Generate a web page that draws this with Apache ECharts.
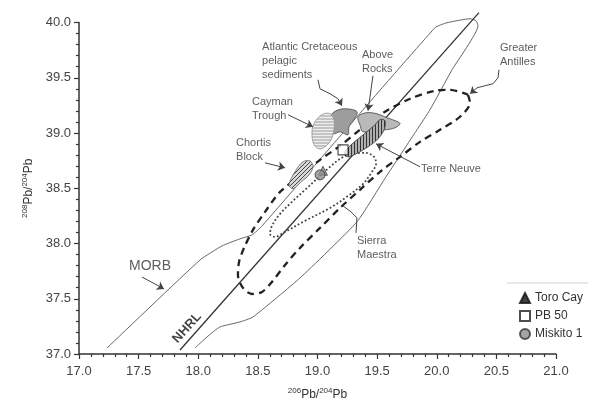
<!DOCTYPE html>
<html><head><meta charset="utf-8">
<script src="https://cdn.jsdelivr.net/npm/echarts@6/dist/echarts.min.js"></script>
<style>html,body{margin:0;padding:0;background:#fff}#c{width:614px;height:401px}</style>
</head><body><div id="c"></div>
<script>
// ---- data (206Pb/204Pb, 208Pb/204Pb) ----
const xRange = [17.0, 21.0];
const yRange = [37.0, 40.0];
const morbEnvelope = [[17.235,37.054],[18.015,37.851],[18.199,37.978],[18.350,38.042],[18.451,38.078],[18.535,38.159],[19.985,39.953],[20.086,39.998],[20.279,40.034],[20.329,40.016],[20.346,39.971],[20.128,39.572],[19.943,39.210],[19.834,39.029],[19.574,38.603],[19.331,38.196],[18.853,37.688],[18.459,37.335],[18.350,37.290],[18.182,37.245],[18.073,37.154],[17.973,37.054]];
const nhrl = [[17.847,37.036],[20.354,40.089]];
const greaterAntilles = [[20.262,39.346],[20.279,39.274],[20.195,39.147],[20.027,39.029],[19.860,38.920],[19.692,38.784],[19.524,38.649],[19.356,38.486],[19.189,38.322],[19.021,38.141],[18.853,37.960],[18.728,37.806],[18.618,37.652],[18.535,37.562],[18.451,37.543],[18.375,37.598],[18.333,37.716],[18.342,37.833],[18.384,37.960],[18.459,38.123],[18.560,38.286],[18.686,38.467],[18.853,38.612],[19.021,38.757],[19.189,38.884],[19.356,39.029],[19.566,39.192],[19.776,39.310],[19.985,39.382],[20.111,39.391],[20.262,39.346]];
const sierraMaestra = [[19.273,38.812],[19.398,38.821],[19.474,38.784],[19.491,38.721],[19.457,38.649],[19.382,38.540],[19.256,38.431],[19.105,38.322],[18.895,38.205],[18.728,38.105],[18.644,38.060],[18.602,38.087],[18.618,38.159],[18.686,38.268],[18.786,38.377],[18.895,38.486],[19.004,38.594],[19.105,38.694],[19.189,38.766],[19.273,38.812]];
const atlanticCretaceous = [[19.105,39.147],[19.155,39.201],[19.239,39.219],[19.331,39.192],[19.306,39.120],[19.264,39.056],[19.256,38.984],[19.189,39.011],[19.130,38.993],[19.105,39.074]];
const caymanTrough = [[19.105,39.174],[19.138,39.120],[19.138,39.029],[19.113,38.938],[19.063,38.875],[19.013,38.857],[18.971,38.893],[18.954,38.975],[18.962,39.065],[19.004,39.138],[19.055,39.174]];
const aboveRocks = [[19.340,39.147],[19.407,39.183],[19.499,39.174],[19.583,39.138],[19.675,39.101],[19.692,39.083],[19.650,39.047],[19.566,39.029],[19.499,39.029],[19.382,39.011],[19.356,39.074]];
const terreNeuve = [[19.222,38.812],[19.273,38.884],[19.373,38.975],[19.474,39.065],[19.524,39.120],[19.566,39.111],[19.558,39.029],[19.507,38.947],[19.424,38.875],[19.323,38.812],[19.256,38.784]];
const chortisBlock = [[18.761,38.531],[18.811,38.649],[18.878,38.739],[18.937,38.748],[18.962,38.694],[18.929,38.621],[18.862,38.558],[18.795,38.495]];
const toroCay = [[19.046,38.658]];
const pb50 = [[19.214,38.848]];
const miskito1 = [[19.021,38.621]];
// annotation texts (anchor = left/top of text, in data units)
const labelTexts = ['Atlantic Cretaceous\npelagic\nsediments','Above\nRocks','Cayman\nTrough','Chortis\nBlock','Terre Neuve','Greater\nAntilles','Sierra\nMaestra'];
const labelAnchors = [[18.535,39.844],[19.373,39.772],[18.451,39.346],[18.317,38.975],[19.868,38.735],[20.530,39.835],[19.331,38.087]];
const morbLabel = [17.419,37.862];
const nhrlLabel = [17.906,37.236];
// annotation pointers (arrow at last point)
const pointers = [
  [[19.004,39.482],[19.021,39.400],[19.105,39.355],[19.172,39.310],[19.205,39.246]],
  [[19.465,39.518],[19.424,39.201]],
  [[18.753,39.165],[18.962,39.056]],
  [[18.560,38.730],[18.728,38.685]],
  [[19.860,38.694],[19.491,38.902]],
  [[20.522,39.572],[20.514,39.500],[20.472,39.446],[20.405,39.428],[20.338,39.409],[20.279,39.355]],
  [[17.528,37.697],[17.713,37.589]]
];
const sierraPointer = [[19.323,38.096],[19.331,38.232],[19.281,38.286],[19.214,38.341]];

// ---- hatch patterns ----
function pattern(kind, bg, fg){
  const c = document.createElement('canvas');
  const s = kind==='h' ? [4,3] : kind==='v' ? [3,4] : [4,4];
  c.width = s[0]; c.height = s[1];
  const g = c.getContext('2d');
  g.fillStyle = bg; g.fillRect(0,0,c.width,c.height);
  g.fillStyle = fg; g.strokeStyle = fg;
  if (kind==='h') g.fillRect(0,0,4,1);
  else if (kind==='v') g.fillRect(0,0,1,4);
  else { g.lineWidth=1; g.beginPath(); g.moveTo(0,4); g.lineTo(4,0); g.moveTo(-1,1); g.lineTo(1,-1); g.moveTo(3,5); g.lineTo(5,3); g.stroke(); }
  return {image:c, repeat:'repeat'};
}
const FONT = 'Liberation Sans, Arial, sans-serif';
function polySeries(name, pts, fill, stroke, z){
  return {type:'custom', name, coordinateSystem:'cartesian2d', z, silent:true,
    data:[pts[0]],
    renderItem:(params, api)=>({type:'polygon',
      shape:{points: pts.map(p=>api.coord(p)), smooth:0.35},
      style:{fill, stroke, lineWidth:0.9}})};
}
function lineSeries(data, color, width, type, z, smooth){
  return {type:'line', data, showSymbol:false, symbol:'none', smooth, clip:false, z, silent:true,
    lineStyle:{color, width, type}};
}
// pointer bodies (all but last segment) and arrow segments (last segment)
const pointerBodies = pointers.filter(p=>p.length>2).map(p=>({coords:p.slice(0,-1)}));
const pointerHeads = pointers.map(p=>({coords:p.slice(-2)}));
const chart = echarts.init(document.getElementById('c'), null, {renderer:'canvas'});
const annData = labelTexts.map((t,i)=>({value:labelAnchors[i], label:{formatter:t}}));
chart.setOption({
  animation:false,
  backgroundColor:'#fff',
  grid:{left:79, right:58, top:22.5, bottom:47, outerBoundsMode:'none', containLabel:false},
  xAxis:{type:'value', min:xRange[0], max:xRange[1], interval:0.5,
    name:'{s|206}{b|Pb/}{s|204}{b|Pb}', nameLocation:'middle', nameGap:33,
    nameTextStyle:{rich:{b:{fontSize:12, fontFamily:FONT, color:'#333', lineHeight:14, verticalAlign:'bottom'},
                         s:{fontSize:8, fontFamily:FONT, color:'#333', lineHeight:14, verticalAlign:'top'}}},
    axisLine:{lineStyle:{color:'#333', width:1.5}},
    axisTick:{length:5, lineStyle:{color:'#333', width:1.2}},
    minorTick:{show:true, splitNumber:5, length:3, lineStyle:{color:'#333', width:1.2}},
    splitLine:{show:false},
    axisLabel:{formatter:v=>v.toFixed(1), color:'#444', fontSize:13, fontFamily:FONT, margin:11}},
  yAxis:{type:'value', min:yRange[0], max:yRange[1], interval:0.5,
    name:'{s|208}{b|Pb/}{s|204}{b|Pb}', nameLocation:'middle', nameGap:44, nameRotate:90,
    nameTextStyle:{rich:{b:{fontSize:12, fontFamily:FONT, color:'#333', lineHeight:14, verticalAlign:'bottom'},
                         s:{fontSize:8, fontFamily:FONT, color:'#333', lineHeight:14, verticalAlign:'top'}}},
    axisLine:{show:true, lineStyle:{color:'#333', width:1.5}},
    axisTick:{show:true, length:5, lineStyle:{color:'#333', width:1.2}},
    minorTick:{show:true, splitNumber:5, length:3, lineStyle:{color:'#333', width:1.2}},
    splitLine:{show:false},
    axisLabel:{formatter:v=>v.toFixed(1), color:'#444', fontSize:13, fontFamily:FONT, margin:8}},
  legend:{orient:'vertical', left:514, top:287, itemGap:6, itemWidth:10, itemHeight:10,
    textStyle:{fontSize:12, fontFamily:FONT, color:'#333'},
    data:[{name:'Toro Cay', icon:'triangle', itemStyle:{color:'#111', borderColor:'#111'}},
          {name:'PB 50', icon:'rect'}, {name:'Miskito 1', icon:'circle'}]},
  graphic:[{type:'line', shape:{x1:507, y1:283, x2:588, y2:283}, style:{stroke:'#d0d0d0', lineWidth:1}}],
  series:[
    lineSeries(morbEnvelope, '#666', 1, 'solid', 2, 0.15),
    lineSeries(nhrl, '#333', 1.3, 'solid', 3, false),
    lineSeries(greaterAntilles, '#222', 2.3, [7,5], 3, 0.3),
    lineSeries(sierraMaestra, '#444', 1.8, [1.8,2.2], 3, 0.35),
    polySeries('atl', atlanticCretaceous, '#9d9d9d', '#555', 5),
    polySeries('cay', caymanTrough, pattern('h','#c4c4c4','#eeeeee'), '#999', 6),
    polySeries('abr', aboveRocks, '#b9b9b9', '#555', 5),
    polySeries('tn', terreNeuve, pattern('v','#b0b0b0','#333'), '#444', 6),
    polySeries('cb', chortisBlock, pattern('d','#d8d8d8','#444'), '#777', 6),
    {type:'scatter', name:'Toro Cay', data:toroCay, symbol:'triangle', symbolSize:9, z:7,
      itemStyle:{color:'#8a8a8a', borderColor:'#444', borderWidth:1}},
    {type:'scatter', name:'Miskito 1', data:miskito1, symbol:'circle', symbolSize:10, z:8,
      itemStyle:{color:'#8f8f8f', borderColor:'#333', borderWidth:1}},
    {type:'scatter', name:'PB 50', data:pb50, symbol:'rect', symbolSize:10, z:8,
      itemStyle:{color:'#fff', borderColor:'#222', borderWidth:1.2}},
    {type:'lines', coordinateSystem:'cartesian2d', polyline:true, z:9, silent:true,
      lineStyle:{color:'#444', width:1, opacity:1},
      data:pointerBodies.concat([{coords:sierraPointer}])},
    {type:'lines', coordinateSystem:'cartesian2d', z:9, silent:true,
      symbol:['none','arrow'], symbolSize:[0,7],
      lineStyle:{color:'#444', width:1, curveness:0, opacity:1},
      data:pointerHeads},
    {type:'scatter', data:annData, symbolSize:0, z:10, silent:true,
      label:{show:true, position:'inside', align:'left', verticalAlign:'top', color:'#333',
        fontSize:11, fontFamily:FONT, lineHeight:14}},
    {type:'scatter', data:[{value:morbLabel, label:{formatter:'MORB'}}], symbolSize:0, z:10, silent:true,
      label:{show:true, position:'inside', align:'left', verticalAlign:'top', color:'#333', fontSize:14, fontFamily:FONT}},
    {type:'scatter', data:[{value:nhrlLabel, label:{formatter:'NHRL'}}], symbolSize:0, z:10, silent:true,
      label:{show:true, position:'inside', align:'center', verticalAlign:'middle', rotate:48, color:'#111', fontSize:13, fontWeight:'bold', fontFamily:FONT}}
  ]
});
</script></body></html>
